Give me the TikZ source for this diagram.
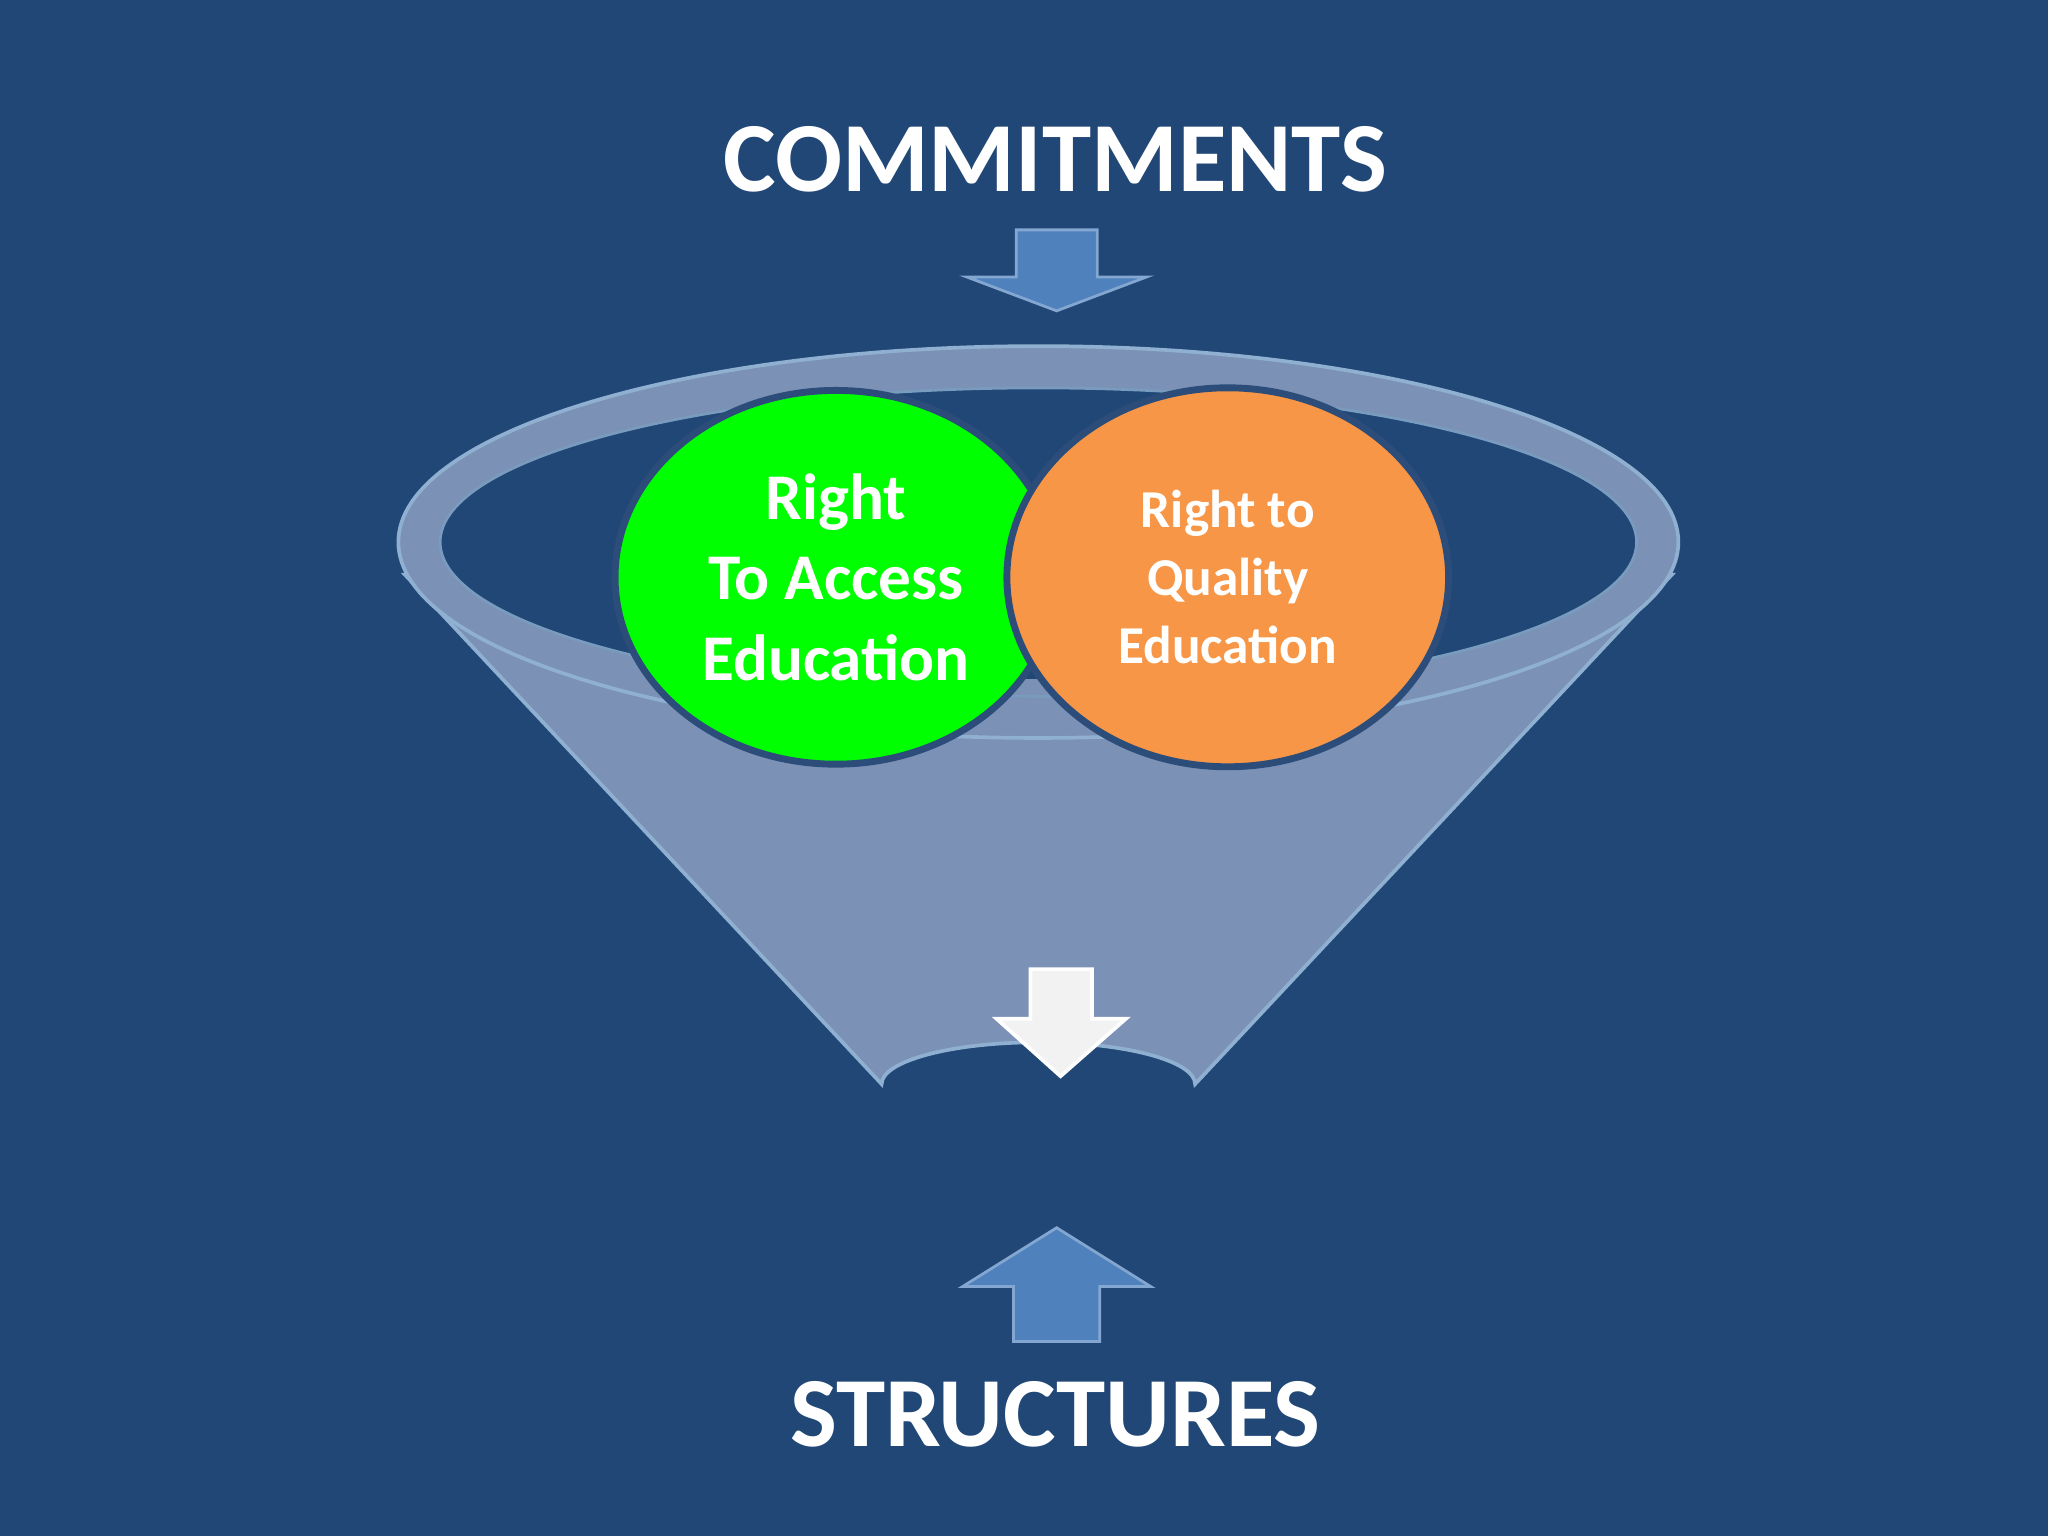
\documentclass[tikz,border=0pt]{standalone}
\usepackage{fontspec}
\setmainfont{Carlito}
\usetikzlibrary{shapes.geometric}
\definecolor{bg}{HTML}{214777}
\definecolor{fun}{HTML}{7B91B6}
\definecolor{funedge}{HTML}{8FB0D0}
\definecolor{arr}{HTML}{4F81BD}
\definecolor{cedge}{HTML}{2C4D7A}
\definecolor{orng}{HTML}{F79646}
\begin{document}
\begin{tikzpicture}[x=0.01cm,y=-0.01cm,
  title/.style={font=\fontsize{21.6}{24}\selectfont\bfseries,text=white},
  bluearrow/.style={fill=arr,draw=arr!70!white,line width=0.6pt},
  circ/.style={ellipse,draw=cedge,line width=1.5pt,inner sep=0pt,align=center,text=white}]
\fill[bg] (0,0) rectangle (1568,1176);
\useasboundingbox (0,0) rectangle (1568,1176);
% funnel
\fill[fun,draw=funedge,line width=0.8pt] (310,440) -- (675,830) arc[start angle=180,end angle=360,x radius=120,y radius=32] -- (1280,440) -- cycle;
\fill[fun,draw=funedge,line width=0.8pt] (795,415) ellipse[x radius=490,y radius=150];
\fill[bg,draw=funedge!80!bg,line width=0.6pt] (795,415) ellipse[x radius=458,y radius=118];
\fill[fun] (640,520) rectangle (950,532);
% circles
\node[circ,fill=green,minimum width=3.38cm,minimum height=2.86cm,font=\fontsize{14.2}{17.6}\selectfont\bfseries] (g) at (640,442) {Right\\To Access\\Education};
\node[circ,fill=orng,minimum width=3.38cm,minimum height=2.9cm,font=\fontsize{11.6}{14.8}\selectfont\bfseries] (o) at (940,442) {Right to\\Quality\\Education};
% arrows
\node[title] (c) at (808,122) {COMMITMENTS};
\node[title] (s) at (808,1083) {STRUCTURES};
\draw[bluearrow] (778,176) -- (840,176) -- (840,212) -- (878,212) -- (809,238) -- (740,212) -- (778,212) -- cycle;
\draw[bluearrow] (776,1027) -- (842,1027) -- (842,985) -- (881,985) -- (809,940) -- (737,985) -- (776,985) -- cycle;
\draw[fill=gray!10!white,draw=white,line width=0.8pt] (789,742) -- (836,742) -- (836,780) -- (862,780) -- (812,824) -- (763,780) -- (789,780) -- cycle;
\end{tikzpicture}
\end{document}
